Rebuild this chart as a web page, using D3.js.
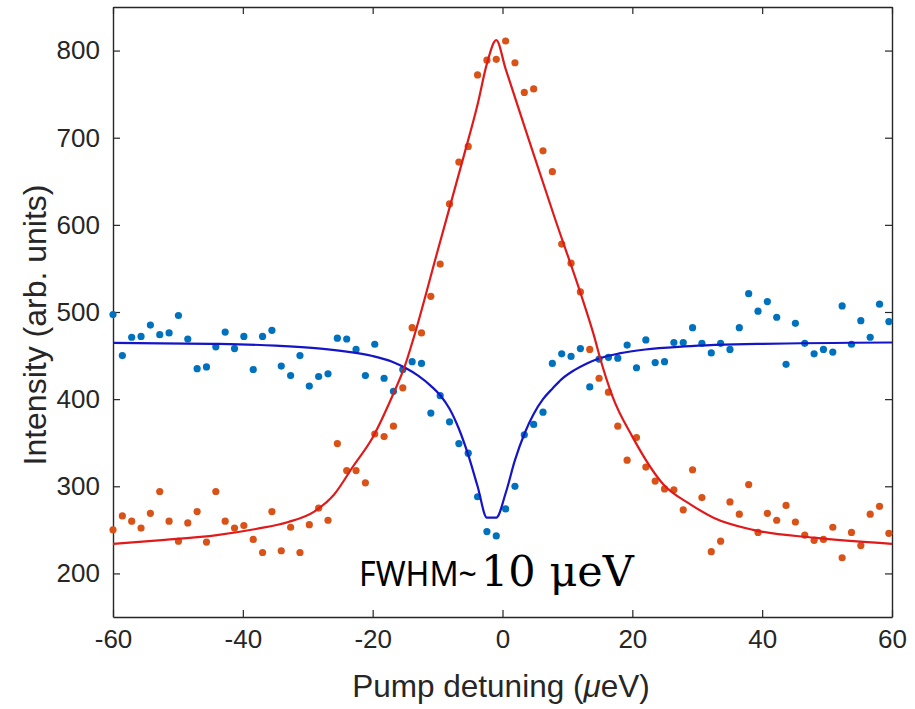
<!DOCTYPE html>
<html>
<head>
<meta charset="utf-8">
<script src="https://cdn.jsdelivr.net/npm/d3@7"></script>
<style>
  body { margin: 0; background: #fff; }
  svg text { font-family: "Liberation Sans", Arial, sans-serif; fill: #262626; }
</style>
</head>
<body>
<svg id="chart" width="915" height="709"></svg>
<script>

// pump detuning of every measured point (ueV)
const detuning = [
  -60.00, -58.56, -57.12, -55.68, -54.24, -52.80, -51.36, -49.92, -48.48, -47.04,
  -45.60, -44.16, -42.72, -41.28, -39.84, -38.40, -36.96, -35.52, -34.08, -32.64,
  -31.20, -29.76, -28.32, -26.88, -25.44, -24.00, -22.56, -21.12, -19.68, -18.24,
  -16.80, -15.36, -13.92, -12.48, -11.04, -9.60, -8.16, -6.72, -5.28, -3.84,
  -2.40, -0.96, 0.48, 1.92, 3.36, 4.80, 6.24, 7.68, 9.12, 10.56,
  12.00, 13.44, 14.88, 16.32, 17.76, 19.20, 20.64, 22.08, 23.52, 24.96,
  26.40, 27.84, 29.28, 30.72, 32.16, 33.60, 35.04, 36.48, 37.92, 39.36,
  40.80, 42.24, 43.68, 45.12, 46.56, 48.00, 49.44, 50.88, 52.32, 53.76,
  55.20, 56.64, 58.08, 59.52
];

// measured intensity, blue series (dip)
const intensityBlue = [
  497, 450, 471, 472, 485, 474, 476, 496, 469, 435,
  437, 460, 477, 458, 472, 434, 472, 479, 438, 427,
  450, 415, 426, 429, 470, 469, 457, 427, 463, 424,
  409, 434, 443, 441, 384, 404, 374, 349, 338, 288,
  248, 243, 274, 300, 359, 371, 385, 441, 452, 449,
  458, 414, 446, 448, 447, 462, 436, 468, 442, 443,
  465, 465, 482, 464, 453, 464, 457, 482, 521, 501,
  512, 494, 440, 487, 464, 452, 457, 454, 507, 463,
  490, 471, 509, 489
];

// measured intensity, orange series (peak)
const intensityOrange = [
  250, 266, 260, 252, 269, 294, 260, 237, 258, 271,
  236, 294, 260, 252, 255, 239, 224, 271, 226, 253,
  224, 256, 275, 261, 349, 318, 318, 304, 360, 357,
  369, 413, 482, 476, 518, 555, 624, 672, 690, 772,
  789, 790, 811, 786, 752, 756, 685, 661, 578, 556,
  523, 457, 424, 408, 369, 330, 356, 322, 306, 297,
  296, 273, 319, 287, 225, 237, 282, 268, 302, 247,
  269, 261, 278, 259, 244, 238, 239, 253, 218, 247,
  232, 268, 277, 246
];

// fitted curve through the blue series
const fitBlueX = [-60, -45, -35, -28, -24, -20, -17, -15, -13, -11, -9.6, -8.16, -6.72, -5.28, -3.84,
                  -2.4, -0.96, 0.48, 1.92, 3.36, 4.8, 6.24, 7.68, 9.12, 11, 13, 15, 18, 22, 28, 40, 60];
const fitBlue  = [464.5, 463.5, 461.5, 458, 454.5, 449.5, 443, 436, 427, 415, 404.5, 389, 366, 336, 300,
                  264, 264, 292, 330, 360, 383, 400, 412, 423, 433, 441, 447, 452.5, 457, 460.5, 463.5, 465];

// fitted curve through the orange series
const fitRedX = [-60, -52, -44, -38, -33, -29, -26, -23, -20, -17, -15, -13.7, -10, -6, -3.84, -2.4, -0.96,
                 0.48, 4, 8, 12.4, 14.2, 15, 17, 20, 24.8, 29, 32.5, 38.6, 48, 60];
const fitRed  = [234, 238.5, 244, 251, 259, 271, 290, 323, 356, 403, 439, 470, 570, 678, 738, 785, 812,
                 779, 699, 609, 513, 470, 448, 402, 357, 302, 279, 264, 250, 241, 234];

const xTicks = [-60, -40, -20, 0, 20, 40, 60];
const yTicks = [200, 300, 400, 500, 600, 700, 800];


function draw_chart(svg_name){

    let chart = d3.select(svg_name);

    // plot box
    let left = 113, right = 892, top = 7, bottom = 617;

    let x = d3.scaleLinear().domain([-60, 60]).range([left, right]);
    let y = d3.scaleLinear().domain([150, 850]).range([bottom, top]);

    // axes, ticks pointing inwards like matlab
    let axisColor = "#262626";
    let plainNumber = function(d){ return String(d); };   // keep the hyphen minus

    chart.append("g")
        .attr("transform", "translate(0," + bottom + ")")
        .call(d3.axisBottom(x).tickValues(xTicks).tickFormat(plainNumber)
                .tickSize(-7).tickPadding(13).tickSizeOuter(0))
        .call(styleAxis);

    chart.append("g")
        .attr("transform", "translate(0," + top + ")")
        .call(d3.axisTop(x).tickValues(xTicks).tickSize(-7).tickFormat("").tickSizeOuter(0))
        .call(styleAxis);

    chart.append("g")
        .attr("transform", "translate(" + left + ",0)")
        .call(d3.axisLeft(y).tickValues(yTicks).tickFormat(plainNumber)
                .tickSize(-7).tickPadding(13).tickSizeOuter(0))
        .call(styleAxis);

    chart.append("g")
        .attr("transform", "translate(" + right + ",0)")
        .call(d3.axisRight(y).tickValues(yTicks).tickSize(-7).tickFormat("").tickSizeOuter(0))
        .call(styleAxis);

    function styleAxis(g){
        g.select(".domain").attr("stroke", axisColor).attr("stroke-width", 1.4);
        g.selectAll(".tick line").attr("stroke", axisColor).attr("stroke-width", 1.2);
        g.selectAll(".tick text")
            .attr("font-size", 26)
            .attr("font-family", "Liberation Sans, Arial, sans-serif")
            .attr("fill", axisColor);
    }

    // measured points
    let points = detuning.map(function(d, i){
        return { x: d, blue: intensityBlue[i], orange: intensityOrange[i] };
    });

    chart.append("g").selectAll("circle")
        .data(points).enter()
            .append("circle")
                .attr("r", 3.6)
                .attr("fill", "#0072BD")
                .attr("cx", function(d){ return x(d.x); })
                .attr("cy", function(d){ return y(d.blue); });

    chart.append("g").selectAll("circle")
        .data(points).enter()
            .append("circle")
                .attr("r", 3.6)
                .attr("fill", "#D95319")
                .attr("cx", function(d){ return x(d.x); })
                .attr("cy", function(d){ return y(d.orange); });

    // fit lines
    let line = d3.line()
        .x(function(d){ return x(d[0]); })
        .y(function(d){ return y(d[1]); })
        .curve(d3.curveMonotoneX);

    chart.append("path")
        .attr("d", line(d3.zip(fitBlueX, fitBlue)))
        .attr("fill", "none")
        .attr("stroke", "#1414c8")
        .attr("stroke-width", 2.2);

    chart.append("path")
        .attr("d", line(d3.zip(fitRedX, fitRed)))
        .attr("fill", "none")
        .attr("stroke", "#e01a1a")
        .attr("stroke-width", 2.2);

    // axis titles
    let xTitle = chart.append("text")
        .attr("x", 501)
        .attr("y", 697)
        .attr("text-anchor", "middle")
        .attr("font-size", 31.5);
    xTitle.append("tspan").text("Pump detuning (");
    xTitle.append("tspan").attr("font-style", "italic").text("\u03bc");
    xTitle.append("tspan").text("eV)");

    chart.append("text")
        .attr("transform", "translate(46,325) rotate(-90)")
        .attr("text-anchor", "middle")
        .attr("font-size", 32)
        .text("Intensity (arb. units)");

    // annotation
    let note = chart.append("text")
        .attr("x", 359)
        .attr("y", 586)
        .style("fill", "#000");
    note.append("tspan")
        .attr("font-family", "Noto Sans, Open Sans, sans-serif")
        .attr("font-size", 35)
        .attr("textLength", 118)
        .attr("lengthAdjust", "spacingAndGlyphs")
        .text("FWHM~");
    note.append("tspan")
        .attr("x", 481)
        .attr("font-family", "DejaVu Serif, serif")
        .attr("font-size", 43)
        .text("10 \u03bceV");

    return { chart: chart, x_scale: x, y_scale: y };
}

draw_chart("#chart");
</script>
</body>
</html>
